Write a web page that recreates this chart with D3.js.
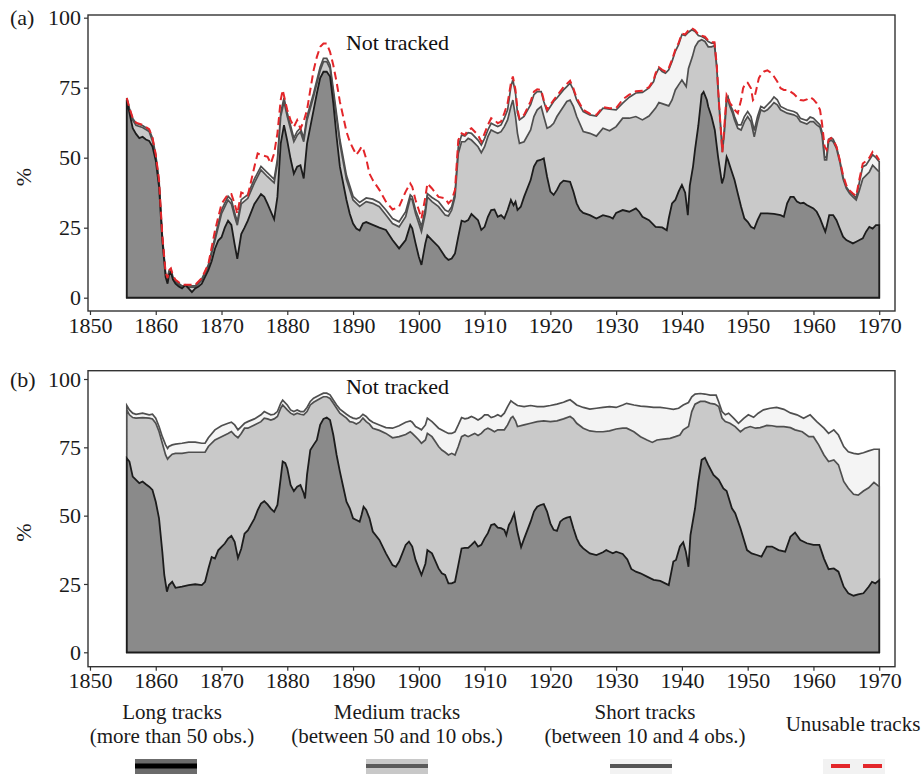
<!DOCTYPE html>
<html>
<head>
<meta charset="utf-8">
<script src="https://cdn.jsdelivr.net/npm/d3@7"></script>
<style>
  body { margin: 0; background: #fff; }
  svg { display: block; font-family: "Liberation Serif", "Times New Roman", serif; }
</style>
</head>
<body>
<div id="chart"></div>
<script>
// cumulative shares (%), [year, value]
// panel (a)
const longA = [[1855.6,70.6],[1856,66],[1856.5,60.5],[1857,58.5],[1857.5,57],[1858,57.5],[1858.5,56.5],[1859,56],[1859.5,54],[1860,49],[1860.5,39.6],[1861,20.4],[1861.5,7.4],[1861.8,5],[1862,8],[1862.3,9.2],[1862.6,6.5],[1863,5],[1863.5,4],[1864,3.3],[1864.5,4.5],[1865,3.3],[1865.5,2],[1866,3.3],[1866.5,4],[1867,5],[1867.5,7.4],[1868,9.8],[1868.5,13],[1869,17.5],[1869.5,20.4],[1870,21.6],[1870.5,25],[1871,27.5],[1871.5,26],[1872,19],[1872.4,13.9],[1873,22.7],[1873.5,25],[1874,27.5],[1875,33.5],[1876,37],[1876.5,36],[1877,33.5],[1878,28],[1878.5,36],[1879,55],[1879.5,61.6],[1880,56],[1880.5,49.6],[1881,44.3],[1881.5,46.8],[1882,47.3],[1882.5,42.6],[1883,55],[1883.5,61],[1884,67],[1884.5,73],[1885,78.4],[1885.5,80.7],[1886,80.7],[1886.5,79],[1887,69.4],[1887.5,57.4],[1888,46.8],[1889,34.9],[1889.5,30],[1890,26.5],[1890.5,24.7],[1891,24],[1891.5,26.5],[1892,27],[1893,26],[1894,25],[1895,24.2],[1896,20.6],[1897,17.6],[1898,20.6],[1898.7,26],[1899,24.8],[1899.5,19.5],[1900,14.6],[1900.4,11.7],[1901,19.5],[1901.3,22.3],[1902,20.6],[1903,18.2],[1904,14.6],[1904.5,13.5],[1905,14],[1905.5,15.8],[1906,21.8],[1906.5,27.5],[1907,27.1],[1907.5,27.7],[1908,29.9],[1909,27.7],[1909.5,24.2],[1910,25.3],[1910.5,28.9],[1911,31.3],[1911.5,31.5],[1912,28.9],[1912.5,29.5],[1913,28.3],[1913.5,31.3],[1914,34.9],[1914.4,33],[1914.7,34.3],[1915,31.3],[1915.5,32.5],[1916,36],[1917,42],[1917.5,46.8],[1918,48.9],[1918.5,49.2],[1919,49.8],[1919.5,43.2],[1920,37.9],[1920.5,36.7],[1921,38.5],[1921.5,40.8],[1922,41.8],[1923,41.4],[1923.5,37.9],[1924,33.7],[1924.5,31.3],[1925,30.3],[1926,29.5],[1927,28.3],[1928,29.5],[1929,28.9],[1929.5,28.3],[1930,30.3],[1931,31.3],[1932,30.7],[1933,31.9],[1933.5,30.7],[1934,28.9],[1935,27.7],[1936,25.3],[1937,25.1],[1937.7,24.1],[1938,28.3],[1938.5,33.7],[1939,34.9],[1939.5,37.9],[1940,40.3],[1940.5,37.5],[1940.9,29.5],[1941.2,40],[1941.7,47],[1942,53],[1942.5,61.5],[1943,72.5],[1943.3,73.5],[1943.8,70.6],[1944,68.3],[1944.5,64.7],[1945,59.9],[1945.5,50.3],[1946.1,40.8],[1946.4,43.2],[1946.8,50.3],[1947,49.2],[1947.5,45.6],[1948,42],[1948.5,37.2],[1949,32.5],[1949.5,28.3],[1950,27.1],[1950.5,25.3],[1951,24.7],[1951.5,27.7],[1952,30.1],[1953,30.1],[1954,29.9],[1955,29.5],[1955.5,28.9],[1956,33.7],[1956.5,36],[1957,36],[1957.5,34.3],[1958,33.7],[1958.5,33.9],[1959,33.1],[1960,31.9],[1960.5,30.7],[1961,28.3],[1961.5,25.3],[1961.8,23.6],[1962,25.3],[1962.4,29.5],[1963,29.5],[1963.5,27.7],[1964,24.7],[1964.5,21.8],[1965,20.6],[1966,19.4],[1966.5,20],[1967,20.6],[1967.5,21.2],[1968,23.6],[1968.5,25.3],[1969,24.7],[1969.5,25.9],[1970,25.9]];
const mediumA = [[1855.6,71],[1856,67],[1856.5,63.4],[1857,61.6],[1858,60.8],[1859,59.3],[1859.5,56],[1860,50.3],[1860.5,41],[1861,21.6],[1861.5,8],[1861.8,6],[1862,9.2],[1862.3,9.8],[1862.6,7],[1863,5.6],[1864,3.8],[1865,3.8],[1866,3.8],[1867,6.2],[1868,11],[1869,20.4],[1870,30],[1871,34.9],[1871.5,33.5],[1872,29],[1872.4,25.9],[1873,33.5],[1874,35.5],[1875,41],[1876,45.6],[1877,43.2],[1878,41],[1878.5,48],[1879,64.7],[1879.5,70],[1880,64.7],[1881,55.7],[1881.5,58],[1882,59.3],[1882.5,55.7],[1883,63.4],[1884,71.8],[1885,81.2],[1885.5,84.3],[1886,84.3],[1886.5,81.9],[1887,73],[1888,55],[1889,42.2],[1890,34.9],[1891,32.6],[1892,34.3],[1893,33.7],[1894,32.5],[1895,29.5],[1896,26.5],[1897,25.3],[1898,28.9],[1898.7,35.5],[1899,34.9],[1899.5,30.1],[1900,26.5],[1900.4,23.6],[1901,30.1],[1901.3,36],[1902,34.3],[1903,32.5],[1904,29.5],[1904.5,29.2],[1905,31.3],[1905.5,36],[1906,51.5],[1906.5,55.7],[1907,55.7],[1907.5,56.9],[1908,56.3],[1909,53.9],[1909.5,51.8],[1910,53.9],[1910.5,57.5],[1911,59.9],[1911.5,59.3],[1912,58.7],[1912.5,59.3],[1913,61.1],[1913.5,63.5],[1914,68.3],[1914.3,70.6],[1914.7,64.7],[1915,58.7],[1915.3,55.1],[1916,55.7],[1917,59.9],[1917.5,64.7],[1918,67.1],[1918.6,68.3],[1919,64.7],[1919.5,60.5],[1920,61.1],[1920.5,62.3],[1921,64.7],[1922,68.3],[1922.5,70.1],[1923,70.6],[1923.5,68.3],[1924,64.7],[1925,59.3],[1926,58.7],[1927,57.7],[1928,60.5],[1929,59.6],[1930,61.1],[1931,64.1],[1932,64.1],[1933,64.7],[1934,63.5],[1935,64.9],[1936,67.7],[1936.5,69.7],[1937,69.3],[1938,68.5],[1938.5,70.6],[1939,74.2],[1939.5,76],[1940,77.7],[1940.65,75.4],[1941,81.9],[1941.6,86.1],[1942,89.6],[1942.5,91.5],[1943,92.1],[1943.5,91.5],[1944,89.6],[1944.5,89.6],[1944.95,90],[1945.3,82],[1945.6,70],[1946.15,52],[1946.45,58.7],[1946.8,70.1],[1947,70.6],[1947.3,68.3],[1947.7,65.9],[1948,63.5],[1948.5,60.5],[1949,59.9],[1949.5,62.8],[1950,64.7],[1950.5,62.8],[1951,57.5],[1951.5,62.8],[1952,67.1],[1952.5,66.5],[1953,67.1],[1953.5,68.3],[1954,69.7],[1954.5,68.9],[1955,67.1],[1956,65.9],[1957,65.3],[1957.5,64.7],[1958,62.9],[1959,62],[1959.5,62.9],[1960,62.9],[1960.5,61.7],[1961,60.9],[1961.3,58.1],[1961.7,49.2],[1962,49.2],[1962.3,55.7],[1962.7,56.3],[1963,55.7],[1963.5,53.3],[1964,48.5],[1964.5,42.5],[1965,39],[1965.5,37.2],[1966,36],[1966.5,34.9],[1967,38.5],[1967.5,42.5],[1968,43.7],[1968.5,44.9],[1969,47.3],[1969.5,46.1],[1970,44.9]];
const shortA = [[1855.6,71.3],[1856,67.6],[1856.5,64],[1857,62.3],[1858,61.5],[1859,60],[1859.5,57],[1860,51],[1860.5,41.8],[1861,22],[1861.5,8.6],[1861.8,6.6],[1862,9.6],[1862.3,10.2],[1862.6,7.5],[1863,6],[1864,4.2],[1865,4.2],[1866,4.2],[1867,6.7],[1868,11.7],[1869,21.5],[1870,31.3],[1871,36.2],[1871.5,35],[1872,30.3],[1872.4,27.2],[1873,35],[1874,36.8],[1875,42.4],[1876,46.9],[1877,44.6],[1878,42.3],[1878.5,49.4],[1879,66],[1879.5,71.3],[1880,66],[1881,57],[1881.5,59.4],[1882,60.6],[1882.5,57],[1883,64.7],[1884,73],[1885,82.4],[1885.5,85.5],[1886,85.5],[1886.5,83.2],[1887,74.4],[1888,56.4],[1889,43.6],[1890,36.2],[1891,34],[1892,35.6],[1893,35.2],[1894,34],[1895,31.3],[1896,28.3],[1897,27.1],[1898,30.7],[1898.7,36.7],[1899,36],[1899.5,31.3],[1900,28.3],[1900.4,25.3],[1901,31.9],[1901.3,37.2],[1902,35.8],[1903,34.3],[1904,31.3],[1904.5,30.7],[1905,32.5],[1905.5,37.2],[1906,53.9],[1906.5,58.1],[1907,57.7],[1907.5,58.9],[1908,58.7],[1909,56.3],[1909.5,54.5],[1910,56.9],[1910.5,59.9],[1911,62.3],[1911.5,61.7],[1912,61.1],[1912.5,61.7],[1913,64.1],[1913.5,67.1],[1914,75.4],[1914.3,77.8],[1914.7,73],[1915,65.9],[1915.3,63.5],[1916,64.7],[1917,68.9],[1917.5,72.5],[1918,73.6],[1918.6,73.6],[1919,70.1],[1919.5,66.5],[1920,68.3],[1920.5,70.1],[1921,71.3],[1922,74.2],[1922.5,75.4],[1923,76.6],[1923.5,74.2],[1924,70.6],[1925,66.5],[1926,65.3],[1927,64.9],[1928,67.7],[1929,67.3],[1930,67.1],[1931,69.5],[1932,71.6],[1933,73.1],[1934,73.3],[1935,74.9],[1935.7,77.2],[1936,79.6],[1936.5,82],[1937,80.8],[1937.5,80.2],[1938,81.4],[1938.5,84.4],[1939,88],[1939.5,90.4],[1940,94],[1940.5,93.6],[1941,94.8],[1941.5,95.7],[1942,95.1],[1942.5,93.6],[1943,93.3],[1943.5,92.7],[1944,91.5],[1944.5,90.9],[1944.95,90.9],[1945.3,82.5],[1945.6,70.5],[1946.15,52.5],[1946.45,59.9],[1946.8,71.5],[1947,71.9],[1947.3,68.9],[1947.7,67.1],[1948,64.7],[1948.5,61.7],[1949,61.7],[1949.5,64.7],[1950,66.5],[1950.5,64.7],[1951,59.7],[1951.5,64.7],[1952,68.3],[1952.5,67.7],[1953,68.9],[1953.5,70.1],[1954,71.7],[1954.5,70.7],[1955,68.3],[1956,67.1],[1957,66.5],[1957.5,65.9],[1958,64.1],[1959,63.3],[1959.5,64.5],[1960,64.1],[1960.5,62.9],[1961,61.7],[1961.3,59.3],[1961.7,50.3],[1962,50],[1962.3,56.6],[1962.7,57.1],[1963,56.6],[1963.5,53.9],[1964,49.1],[1964.5,43.1],[1965,39.5],[1965.5,37.8],[1966,36.8],[1966.5,35.6],[1967,41.4],[1967.5,46.8],[1968,47.4],[1968.5,49.2],[1969,51],[1969.5,50],[1970,48.6]];
const unusableA = [[1855.6,71.3],[1856,67.8],[1856.5,64.2],[1857,62.5],[1858,61.7],[1859,60.2],[1859.5,57.2],[1860,51.2],[1860.5,42],[1861,22.2],[1861.5,9],[1861.8,7],[1862,9.8],[1862.3,10.5],[1862.6,8],[1863,6.4],[1864,4.6],[1865,4.6],[1866,4.6],[1867,7],[1868,12],[1869,23.9],[1870,33.5],[1871,37],[1871.5,37],[1872,33.5],[1872.4,30],[1873,37.6],[1874,36.5],[1875,46.8],[1875.5,51.5],[1876,51],[1877,50.3],[1877.5,48],[1878,51.5],[1878.5,58.7],[1879,70.6],[1879.3,74.2],[1880,67],[1880.5,63.4],[1881,61],[1881.5,63.4],[1882,60.4],[1882.5,63],[1883,67],[1883.5,74.2],[1884,81.2],[1884.5,86],[1885,89.6],[1885.5,90.8],[1886,90.8],[1886.5,87.8],[1887,83],[1887.5,77],[1888,70],[1888.5,64.7],[1889,59.3],[1889.5,55.7],[1890,53.3],[1890.5,51],[1891,52.7],[1891.3,54],[1891.6,52.7],[1892,49.6],[1892.5,44.3],[1893,42],[1894,38.5],[1895,34.3],[1896,31.5],[1897,32.5],[1898,37.9],[1898.7,40.8],[1899,39.6],[1899.5,34.9],[1900,31.3],[1900.4,28.3],[1901,36],[1901.3,40.8],[1902,39],[1903,36],[1904,35.5],[1904.5,33.7],[1905,34.9],[1905.5,38.5],[1906,56.3],[1906.5,58.7],[1907,58.1],[1907.5,59.9],[1908,60.5],[1909,58.1],[1909.5,55.7],[1910,58.7],[1910.5,61.7],[1911,64.1],[1911.5,63.5],[1912,62.3],[1912.5,62.9],[1913,65.9],[1913.5,69.5],[1914,76.6],[1914.3,79],[1914.7,74.2],[1915,67.1],[1915.3,64.1],[1916,65.3],[1917,70.1],[1917.5,73.6],[1918,74.4],[1918.6,74.2],[1919,70.6],[1919.5,67.1],[1920,68.9],[1920.5,70.6],[1921,72.1],[1922,75.2],[1922.5,76.3],[1923,77.5],[1923.5,74.8],[1924,71.3],[1925,67.1],[1926,65.7],[1927,65.3],[1928,68.1],[1929,67.7],[1930,67.7],[1931,70.8],[1932,72.5],[1933,73.7],[1934,73.9],[1935,75.2],[1935.7,77.8],[1936,80.2],[1936.5,82.3],[1937,81.4],[1937.5,80.8],[1938,82],[1938.5,85],[1939,88.6],[1939.5,91],[1940,94.3],[1940.5,94],[1941,95.5],[1941.5,96.3],[1942,95.5],[1942.5,94],[1943,93.6],[1943.5,93.2],[1944,91.9],[1944.5,91.2],[1944.95,91.2],[1945.3,83],[1945.6,71],[1946.15,52],[1946.45,61.1],[1946.8,72.5],[1947,71.7],[1947.3,69.5],[1947.7,68.3],[1948,67.1],[1948.5,65.9],[1949,70.6],[1949.3,74.8],[1949.7,76.8],[1950,76.8],[1950.5,74.8],[1950.8,70.6],[1951,71.2],[1951.3,74.2],[1951.7,78.4],[1952,79.6],[1952.5,80.8],[1953,81.2],[1953.5,80.4],[1954,79],[1954.5,77.2],[1955,74.8],[1955.5,74.2],[1956,74.2],[1956.5,73.6],[1957,72.8],[1957.5,71.6],[1958,70.6],[1958.5,70.4],[1959,70.8],[1959.5,71.6],[1960,70.8],[1960.5,69.4],[1961,67.1],[1961.3,62.3],[1961.7,54],[1962,52.8],[1962.3,56.3],[1962.7,57],[1963,56.3],[1963.5,54],[1964,49.2],[1964.5,43.8],[1965,40.1],[1965.5,38.3],[1966,37.2],[1966.5,36.3],[1967,42.5],[1967.5,47.9],[1968,48.8],[1968.5,50],[1969,52.1],[1969.5,51],[1970,49.2]];

// panel (b)
const longB = [[1855.6,71],[1856,69.8],[1856.5,64.3],[1857,63.1],[1857.5,61.9],[1858,62.5],[1858.5,61.5],[1859,60.6],[1859.5,59.4],[1860,55.1],[1860.5,49],[1861,36.8],[1861.3,28.3],[1861.7,22.2],[1862,24.6],[1862.5,25.8],[1863,23.6],[1864,24],[1865,24.6],[1866,24.9],[1867,24.6],[1867.5,25.8],[1868,30.6],[1868.5,34.9],[1869,34.3],[1869.5,37.3],[1870,38.6],[1870.5,39.8],[1871,41.6],[1871.5,42.6],[1872,40.4],[1872.5,34.5],[1873,37.9],[1873.5,43.4],[1874,44.6],[1875,48.9],[1875.5,52],[1876,54.4],[1876.5,55.3],[1877,54.1],[1877.5,52.6],[1878,51.4],[1878.5,53.9],[1879,63.7],[1879.3,69.8],[1879.7,69.2],[1880,67.3],[1880.5,61.2],[1881,59],[1881.5,60.6],[1882,61.2],[1882.5,58.2],[1882.7,56.3],[1883,64.9],[1883.5,74],[1884,75.9],[1884.5,77.7],[1885,83.2],[1885.5,85.4],[1886,85.9],[1886.5,85],[1887,79.5],[1887.5,72.2],[1888,66.1],[1888.5,60.6],[1889,55.1],[1889.5,52.7],[1890,49],[1890.5,48.4],[1891,47.8],[1891.3,50.3],[1891.6,53.3],[1892,52.1],[1892.5,49],[1893,44.2],[1894,41.1],[1895,36.2],[1896,31.9],[1896.5,31.3],[1897,33.2],[1898,39.3],[1898.5,40.5],[1899,38.7],[1899.5,33.8],[1900,30.7],[1900.4,28.3],[1901,32.4],[1901.3,37.4],[1902,36.2],[1903,30.7],[1903.5,28.9],[1904,28.3],[1904.5,25.2],[1905,25.2],[1905.5,25.8],[1906,31.9],[1906.5,38],[1907,38.2],[1907.5,38.2],[1908,39.3],[1908.5,40.5],[1909,38.7],[1909.5,39.3],[1910,41.7],[1910.5,43.6],[1911,46.6],[1911.5,46.9],[1912,45.6],[1912.5,45.4],[1913,44.8],[1913.3,42.9],[1913.7,46.6],[1914,47.8],[1914.5,50.8],[1915,44],[1915.55,38.5],[1916,41.5],[1917,47.8],[1917.5,51.5],[1918,53.3],[1918.5,53.9],[1919,54.2],[1919.5,51.5],[1920,47.2],[1920.5,44.8],[1921,44.4],[1921.5,47.8],[1922,48.8],[1922.5,49.3],[1923,49.6],[1923.5,45.4],[1924,41.7],[1924.5,39.3],[1925,38],[1926,36.2],[1927,35.6],[1928,36.6],[1928.5,37.4],[1929,36.8],[1929.5,36.2],[1930,36.8],[1931,36],[1931.7,34],[1932.3,30.5],[1933,29.5],[1933.7,28.9],[1934.7,27.7],[1935.7,26.5],[1936.7,26.1],[1938,24.6],[1938.7,33.2],[1939.1,33.8],[1939.7,38.7],[1940.2,40.3],[1940.6,36.8],[1941,31.3],[1941.3,42.9],[1942,52.7],[1942.5,62.5],[1943,70.4],[1943.5,71.2],[1944,68.6],[1944.8,64.9],[1945.6,63.1],[1946.3,60],[1946.8,59],[1947.6,52.7],[1948.1,50.9],[1948.9,45.4],[1949.9,37.4],[1950.6,36.2],[1951.4,35.6],[1952.1,35],[1952.9,38.7],[1953.7,38.7],[1954.7,37.4],[1955.7,36.8],[1956.5,42.3],[1957.2,43.8],[1958,41.1],[1959,39.9],[1960,39.3],[1960.9,39.3],[1961.6,34.3],[1962.3,30.4],[1963.1,30.7],[1963.8,29.5],[1964.6,24],[1965.3,21.6],[1966.1,20.7],[1966.8,21.2],[1967.6,21.6],[1968.4,24],[1968.9,25.8],[1969.4,25.2],[1970,26.4]];
const mediumB = [[1855.6,88.7],[1856,86.9],[1856.5,85.9],[1857,85.7],[1858,85.9],[1859,85.7],[1859.5,85.4],[1860,83.8],[1860.5,80.8],[1861,76.5],[1861.5,72.2],[1861.8,70.7],[1862,71.3],[1862.5,72.5],[1863,72.8],[1864,72.8],[1865,73.2],[1866,73.2],[1867,73.2],[1867.5,73.2],[1868,75.3],[1869,77.7],[1870,78.9],[1871,80.1],[1871.5,80.8],[1872,79.5],[1872.5,78.5],[1873,80.1],[1873.5,82],[1874,82],[1875,83.2],[1876,84.4],[1876.5,85.7],[1877,85.4],[1877.5,85],[1878,85.4],[1878.5,86.3],[1879,89.3],[1879.3,90.5],[1880,88.7],[1880.5,87.5],[1881,86.9],[1881.5,87.5],[1882,87.1],[1882.5,86.9],[1883,88.1],[1883.5,90.5],[1884,91.5],[1885,92.9],[1885.5,93.5],[1886,93.5],[1886.5,92.9],[1887,91.1],[1887.5,89.3],[1888,87.5],[1889,85.7],[1889.5,84.4],[1890,84.2],[1890.5,83.5],[1891,84.2],[1891.5,85.7],[1892,84.4],[1892.5,83.5],[1893,82],[1894,81.2],[1895,80.1],[1896,78.5],[1897,78.9],[1898,79.7],[1898.7,80.7],[1899,80.1],[1899.5,78.9],[1900,77.7],[1900.4,76.5],[1901,77.7],[1901.3,80.1],[1902,78.9],[1902.5,77.1],[1903,75.3],[1903.5,74],[1904,73.2],[1904.5,72.2],[1905,72.8],[1905.5,72.2],[1906,75.3],[1906.5,78.9],[1907,79.5],[1907.5,78.9],[1908,79.5],[1908.5,80.1],[1909,79.3],[1909.5,80.1],[1910,81.4],[1910.5,82],[1911,81.4],[1911.5,80.7],[1912,81.4],[1912.5,81.4],[1913,81.4],[1913.5,83.2],[1914,85.7],[1914.3,86.3],[1914.7,84.7],[1915,82.6],[1916,83.2],[1917,83.8],[1918,84.4],[1919,84.7],[1920,84.4],[1921,84.7],[1922,85.4],[1923,86.3],[1923.5,85.4],[1924,83.8],[1925,82],[1926,81],[1927,80.7],[1928,80.7],[1929,81],[1930,81.7],[1931,82],[1931.6,82],[1932.7,80.7],[1933.7,78.9],[1934.7,77.7],[1935.5,76.8],[1936.2,77.7],[1937.2,78],[1938.2,78.3],[1939,78.9],[1939.7,79.5],[1940.2,81.4],[1941,82.6],[1941.5,88.1],[1942,90.8],[1942.8,91.8],[1943.5,91.8],[1944.3,91.1],[1945,90.8],[1945.6,89.9],[1946.1,85.7],[1946.6,84.4],[1947.3,83.8],[1948.1,82.6],[1948.9,80.7],[1949.6,82],[1950.4,82.6],[1951.2,82],[1951.9,82.2],[1952.9,83],[1953.7,82.9],[1954.4,82.6],[1955.5,82.6],[1956.5,82.2],[1957.2,81.4],[1958.3,80.7],[1959.3,78.9],[1960,78.9],[1960.8,75.9],[1961.6,72.2],[1962.3,69.8],[1963.1,70.4],[1963.8,68.6],[1964.6,62.5],[1965.3,60],[1966.1,57.8],[1966.8,57.5],[1967.6,59],[1968.4,60.2],[1969.2,62.2],[1970,60.6]];
const shortB = [[1855.6,90.3],[1856,88.7],[1856.5,87.5],[1857,87.1],[1858,87.5],[1859,86.9],[1859.5,87.1],[1860,85.7],[1860.5,82.6],[1861,78.9],[1861.5,75.9],[1861.8,74.6],[1862,75.3],[1862.5,75.9],[1863,76.2],[1864,76.5],[1865,76.9],[1866,76.9],[1867,76.5],[1867.5,76.5],[1868,78.5],[1869,81.4],[1870,82.9],[1871,83.8],[1871.5,84.2],[1872,83.2],[1872.5,81.4],[1873,82.6],[1873.5,83.8],[1874,84.4],[1875,85.4],[1876,86.9],[1876.5,88.1],[1877,87.5],[1877.5,86.9],[1878,87.1],[1878.5,88.1],[1879,91.1],[1879.3,92.3],[1880,90.5],[1880.5,88.7],[1881,88.1],[1881.5,88.7],[1882,88.1],[1882.5,88.1],[1883,89.6],[1883.5,91.8],[1884,93],[1885,94.2],[1885.5,94.8],[1886,94.8],[1886.5,94.2],[1887,92.3],[1887.5,90.5],[1888,89],[1889,87.1],[1889.5,86.3],[1890,85.7],[1890.5,85.4],[1891,85.9],[1891.5,87.1],[1892,86.3],[1892.5,85],[1893,84.2],[1894,83.2],[1895,82.2],[1896,82],[1897,82.9],[1898,84.2],[1898.7,84.7],[1899,84.2],[1899.5,82.6],[1900,82],[1900.4,81.4],[1901,83.2],[1901.3,85.7],[1902,84.4],[1902.5,83.2],[1903,82],[1904,80.7],[1904.5,80.1],[1905,80.1],[1905.5,80.7],[1906,83.2],[1906.5,85.9],[1907,85.4],[1907.5,85.7],[1908,86.3],[1908.5,85.7],[1909,85],[1909.5,85.7],[1910,86.9],[1910.5,86.9],[1911,85.9],[1911.5,86.3],[1912,86.9],[1912.5,86.3],[1913,87.5],[1913.5,89.9],[1914,92],[1914.5,91.1],[1915,90.3],[1916,89.9],[1917,90.3],[1918,89.9],[1919,89.9],[1920,90.3],[1921,90.8],[1922,91.5],[1922.5,92],[1923,92.4],[1923.5,91.5],[1924,90.5],[1925,89.6],[1926,89],[1927,89.3],[1928,89.6],[1929,89.9],[1930,89.6],[1931,90.5],[1931.6,91.1],[1932.7,90.5],[1933.7,90.1],[1934.7,89.9],[1935.7,89.6],[1936.7,89.6],[1937.7,89.3],[1938.7,88.9],[1939.5,89.3],[1940.2,90.5],[1941,91.4],[1941.5,93.5],[1942,94.5],[1942.8,94.7],[1943.5,94.5],[1944.3,94.1],[1945.2,94.1],[1945.6,91.6],[1946.1,88.1],[1946.6,86.9],[1947.1,87.5],[1947.9,85.6],[1948.6,83.8],[1949.4,85.6],[1950.1,86.9],[1950.9,86],[1951.6,87.5],[1952.4,88.7],[1953.4,89.3],[1954.4,89.6],[1955.5,88.9],[1956.5,87.6],[1957.5,86.9],[1958.5,85.6],[1959.5,86.9],[1960.5,84.4],[1961.6,82],[1962.3,80.1],[1963.1,81.4],[1963.8,79.5],[1964.6,75.3],[1965.3,73.4],[1966.1,72.8],[1966.8,72.5],[1967.6,73],[1968.4,73.7],[1969.2,74.3],[1970,74.3]];

const yearTicks = [1850, 1860, 1870, 1880, 1890, 1900, 1910, 1920, 1930, 1940, 1950, 1960, 1970];
const pctTicks = [0, 25, 50, 75, 100];
const legendTitles = ["Long tracks", "Medium tracks", "Short tracks", "Unusable tracks"];
const legendNotes = ["(more than 50 obs.)", "(between 50 and 10 obs.)", "(between 10 and 4 obs.)", ""];

const width = 924;
const height = 774;
const font = '"Liberation Serif", "Times New Roman", serif';

const svg = d3.select("#chart")
  .append("svg")
  .attr("width", width)
  .attr("height", height);

const x = d3.scaleLinear().domain([1849.7, 1972.4]).range([88, 895]);

const panels = [
  { tag: "(a)", top: 15, bottom: 311, yDomain: [-4.75, 100.96],
    long: longA, medium: mediumA, short: shortA, unusable: unusableA },
  { tag: "(b)", top: 370.7, bottom: 666.7, yDomain: [-5.27, 103.04],
    long: longB, medium: mediumB, short: shortB, unusable: null },
];

panels.forEach((p) => {
  const y = d3.scaleLinear().domain(p.yDomain).range([p.bottom, p.top]);
  const g = svg.append("g");

  const area = d3.area()
    .x((d) => x(d[0]))
    .y0(y(0))
    .y1((d) => y(d[1]));

  // painted back to front: each layer is cumulative from zero
  g.append("path").datum(p.short).attr("d", area)
    .attr("fill", "#f4f4f4").attr("stroke", "#4f4f4f").attr("stroke-width", 1.7);
  g.append("path").datum(p.medium).attr("d", area)
    .attr("fill", "#c9c9c9").attr("stroke", "#4f4f4f").attr("stroke-width", 1.7);
  g.append("path").datum(p.long).attr("d", area)
    .attr("fill", "#8a8a8a").attr("stroke", "#1c1c1c").attr("stroke-width", 1.8);

  if (p.unusable) {
    const line = d3.line().x((d) => x(d[0])).y((d) => y(d[1]));
    g.append("path").datum(p.unusable).attr("d", line)
      .attr("fill", "none").attr("stroke", "#e3262a").attr("stroke-width", 2)
      .attr("stroke-dasharray", "8,4.5");
  }

  g.append("rect")
    .attr("x", 88).attr("y", p.top)
    .attr("width", 895 - 88).attr("height", p.bottom - p.top)
    .attr("fill", "none").attr("stroke", "#333").attr("stroke-width", 1.4);

  const xAxis = g.append("g")
    .attr("transform", `translate(0,${p.bottom})`)
    .call(d3.axisBottom(x).tickValues(yearTicks).tickFormat(d3.format("d")).tickSize(4).tickPadding(2));
  const yAxis = g.append("g")
    .attr("transform", "translate(88,0)")
    .call(d3.axisLeft(y).tickValues(pctTicks).tickSize(4).tickPadding(3));

  [xAxis, yAxis].forEach((a) => {
    a.select(".domain").remove();
    a.selectAll(".tick line").attr("stroke", "#333").attr("stroke-width", 1.2);
    a.selectAll("text").attr("font-size", 22).attr("font-family", font).attr("fill", "#1a1a1a");
  });

  g.append("text")
    .attr("x", 10).attr("y", y(100) + 7.5)
    .attr("font-size", 22).attr("font-family", font).attr("fill", "#1a1a1a")
    .text(p.tag);

  g.append("text")
    .attr("transform", `translate(23,${(p.top + p.bottom) / 2 + 14}) rotate(-90)`)
    .attr("text-anchor", "middle").attr("dominant-baseline", "central")
    .attr("font-size", 22).attr("font-family", font).attr("fill", "#1a1a1a")
    .text("%");

  g.append("text")
    .attr("x", 397.5).attr("y", p.top + (p.tag === "(a)" ? 34.5 : 23.5))
    .attr("text-anchor", "middle")
    .attr("font-size", 22).attr("font-family", font).attr("fill", "#111")
    .text("Not tracked");
});

// legend
const legendCenters = [172, 397, 645, 853];
const keyX = [135, 366, 610, 823];
const keyFill = ["#6b6b6b", "#c8c8c8", "#f2f2f2", "#f2f2f2"];
const keyLine = ["#000", "#5a5a5a", "#555", "#e3262a"];

const legend = svg.append("g").attr("font-family", font).attr("font-size", 21).attr("fill", "#1a1a1a");

legendTitles.forEach((t, i) => {
  const note = legendNotes[i];
  legend.append("text")
    .attr("x", legendCenters[i]).attr("y", note ? 719 : 731)
    .attr("text-anchor", "middle").text(t);
  if (note) {
    legend.append("text")
      .attr("x", legendCenters[i]).attr("y", 742.5)
      .attr("text-anchor", "middle").text(note);
  }
  legend.append("rect")
    .attr("x", keyX[i]).attr("y", 759).attr("width", 62).attr("height", 18)
    .attr("fill", keyFill[i]);
  const ln = legend.append("line")
    .attr("x1", keyX[i]).attr("x2", keyX[i] + 62)
    .attr("y1", 766).attr("y2", 766)
    .attr("stroke", keyLine[i]).attr("stroke-width", i === 0 ? 5 : 4);
  if (i === 3) {
    ln.attr("x1", keyX[i] + 8).attr("x2", keyX[i] + 59).attr("stroke-dasharray", "19,13");
  }
});
</script>
</body>
</html>
